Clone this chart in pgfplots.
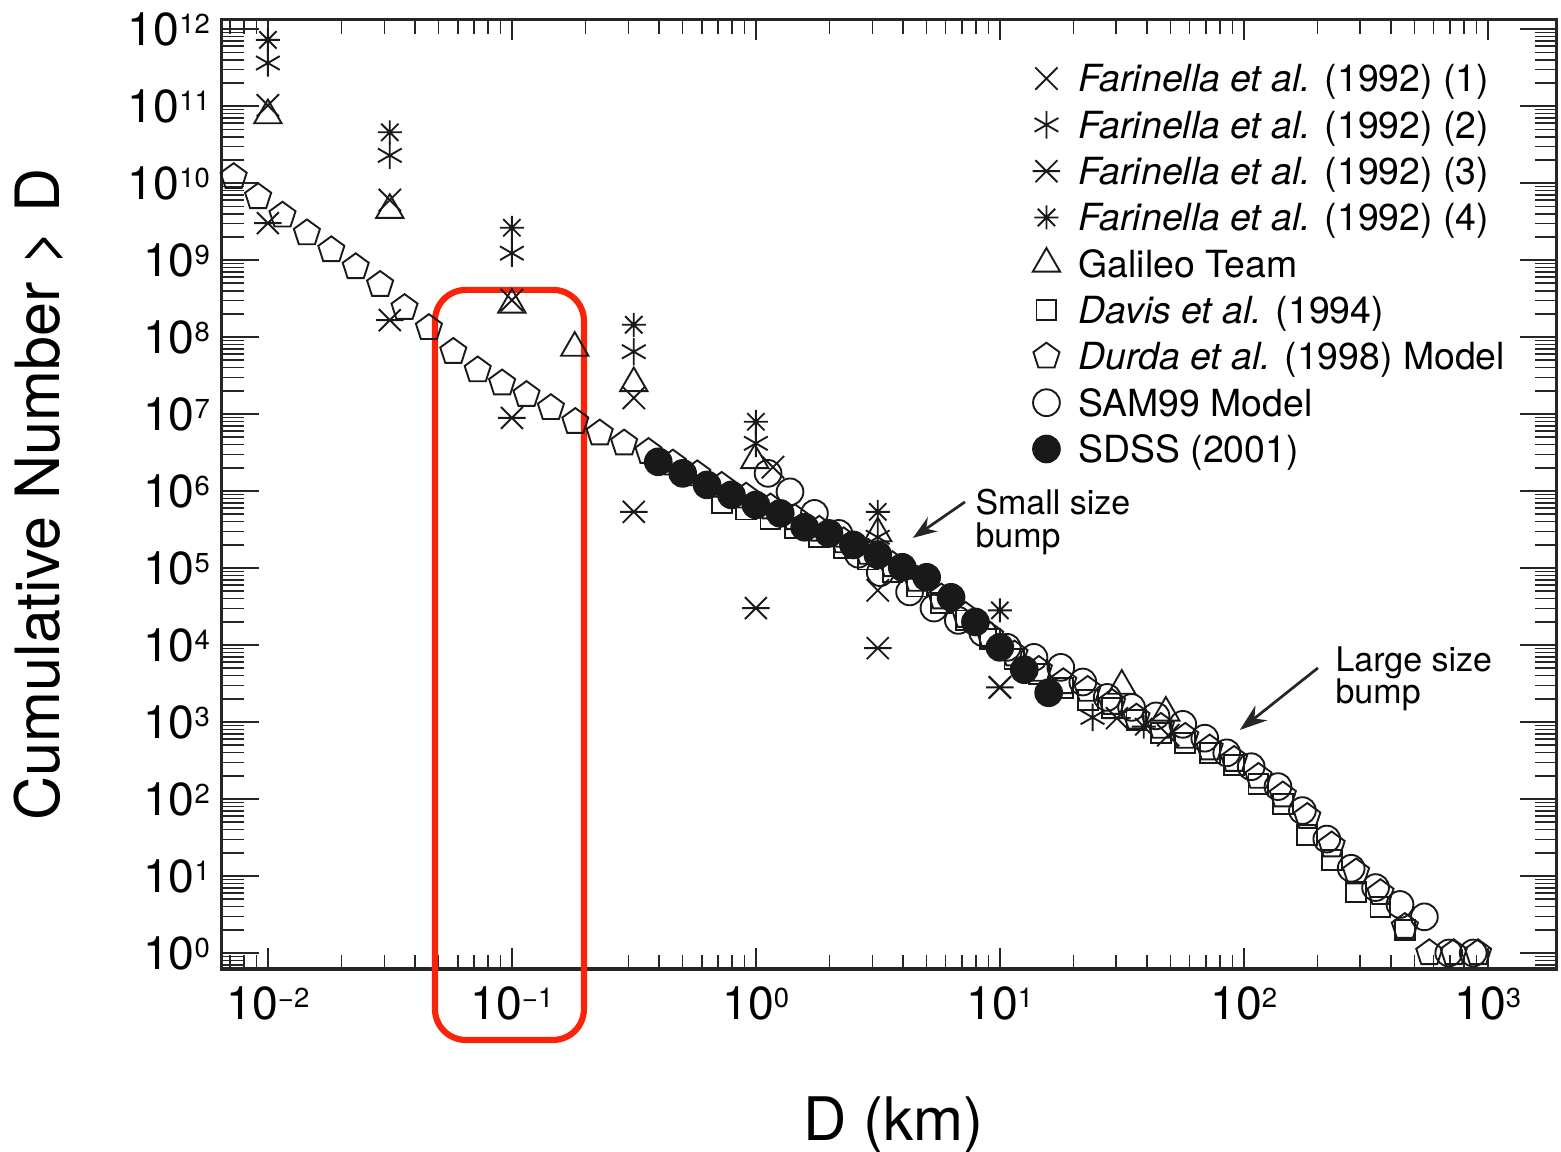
\documentclass[border=0pt]{standalone}
\usepackage{fontspec}
\setmainfont{TeX Gyre Heros}
\usepackage{pgfplots}
\pgfplotsset{compat=1.18}
\usetikzlibrary{arrows.meta}

\definecolor{boxred}{RGB}{250,35,10}

% 10 with a small raised exponent
\newcommand{\tp}[1]{10\raisebox{3.5pt}{\fontsize{8}{8}\selectfont#1}}

% X with a horizontal bar
\pgfdeclareplotmark{xbar}{%
  \pgfpathmoveto{\pgfqpoint{-\pgfplotmarksize}{-\pgfplotmarksize}}%
  \pgfpathlineto{\pgfqpoint{\pgfplotmarksize}{\pgfplotmarksize}}%
  \pgfpathmoveto{\pgfqpoint{-\pgfplotmarksize}{\pgfplotmarksize}}%
  \pgfpathlineto{\pgfqpoint{\pgfplotmarksize}{-\pgfplotmarksize}}%
  \pgfpathmoveto{\pgfqpoint{-1.25\pgfplotmarksize}{0pt}}%
  \pgfpathlineto{\pgfqpoint{1.25\pgfplotmarksize}{0pt}}%
  \pgfusepathqstroke}
% eight-armed asterisk
\pgfdeclareplotmark{ast8}{%
  \pgfpathmoveto{\pgfqpoint{-0.72\pgfplotmarksize}{-0.72\pgfplotmarksize}}%
  \pgfpathlineto{\pgfqpoint{0.72\pgfplotmarksize}{0.72\pgfplotmarksize}}%
  \pgfpathmoveto{\pgfqpoint{-0.72\pgfplotmarksize}{0.72\pgfplotmarksize}}%
  \pgfpathlineto{\pgfqpoint{0.72\pgfplotmarksize}{-0.72\pgfplotmarksize}}%
  \pgfpathmoveto{\pgfqpoint{-\pgfplotmarksize}{0pt}}%
  \pgfpathlineto{\pgfqpoint{\pgfplotmarksize}{0pt}}%
  \pgfpathmoveto{\pgfqpoint{0pt}{-\pgfplotmarksize}}%
  \pgfpathlineto{\pgfqpoint{0pt}{\pgfplotmarksize}}%
  \pgfusepathqstroke}

\begin{document}
\begin{tikzpicture}
\begin{axis}[
  name=ax, scale only axis, width=389.2pt, height=276.7pt,
  xmode=log, ymode=log,
  xmin=0.00648, xmax=1919, ymin=0.62, ymax=1.318e12,
  clip=false,
  axis line style={line width=0.9pt, black!85},
  xtick={0.01,0.1,1,10,100,1000},
  xticklabels={\tp{−2},\tp{−1},\tp{0},\tp{1},\tp{2},\tp{3}},
  minor xtick={0.007,0.008,0.009,0.02,0.03,0.04,0.05,0.06,0.07,0.08,0.09,
    0.2,0.3,0.4,0.5,0.6,0.7,0.8,0.9,2,3,4,5,6,7,8,9,
    20,30,40,50,60,70,80,90,200,300,400,500,600,700,800,900},
  ytick={1,10,100,1000,1e4,1e5,1e6,1e7,1e8,1e9,1e10,1e11,1e12},
  yticklabels={\tp{0},\tp{1},\tp{2},\tp{3},\tp{4},\tp{5},\tp{6},\tp{7},\tp{8},\tp{9},\tp{10},\tp{11},\tp{12}},
  minor ytick={0.7,0.8,0.9,2,3,4,5,6,7,8,9,20,30,40,50,60,70,80,90,
    200,300,400,500,600,700,800,900,2e3,3e3,4e3,5e3,6e3,7e3,8e3,9e3,
    2e4,3e4,4e4,5e4,6e4,7e4,8e4,9e4,2e5,3e5,4e5,5e5,6e5,7e5,8e5,9e5,
    2e6,3e6,4e6,5e6,6e6,7e6,8e6,9e6,2e7,3e7,4e7,5e7,6e7,7e7,8e7,9e7,
    2e8,3e8,4e8,5e8,6e8,7e8,8e8,9e8,2e9,3e9,4e9,5e9,6e9,7e9,8e9,9e9,
    2e10,3e10,4e10,5e10,6e10,7e10,8e10,9e10,2e11,3e11,4e11,5e11,6e11,7e11,8e11,9e11},
  tick style={black!85, line width=0.45pt},
  xtick style={/pgfplots/major tick length=6pt, /pgfplots/minor tick length=4pt},
  ytick style={/pgfplots/major tick length=10.8pt, /pgfplots/minor tick length=6.4pt},
  tick label style={font=\fontsize{13.5}{13.5}\selectfont},
  xticklabel style={yshift=-1.6pt},
  xlabel={D (km)},
  ylabel={Cumulative Number > D},
  xlabel style={at={(axis description cs:0.503,-0.1802)}, anchor=base, font=\fontsize{17.5}{17.5}\selectfont},
  ylabel style={at={(axis description cs:-0.1213,0.5)}, anchor=base, font=\fontsize{17.8}{17.8}\selectfont},
  legend cell align=left,
  legend style={at={(axis description cs:0.6043,0.9633)}, anchor=north west,
    draw=none, fill=none, inner sep=0pt, column sep=3.7pt, row sep=0pt,
    font=\fontsize{10.9}{13}\selectfont,
    nodes={inner sep=0.65pt, text height=10pt, text depth=2.2pt}},
  legend image code/.code={\path[draw=none, fill=none] (-5pt,-3pt) rectangle (5pt,3pt);
    \draw[#1] plot coordinates {(0pt,0pt)};},
  every axis plot/.append style={only marks, line width=0.55pt, black!90, mark options={solid}},
]

% Farinella et al. (1992) (1)
\addplot[mark=x, mark size=4.6pt] coordinates {
  (0.01,1.023e11) (0.0316,6.026e9) (0.1,3.020e8) (0.316,1.622e7)
  (1.175,2.042e6) (3.16,5.129e4) (10,2.818e3) (48.98,676)};
\addlegendentry{\textit{Farinella et al.} (1992) (1)}

% Farinella et al. (1992) (2)
\addplot[mark=asterisk, mark size=4pt] coordinates {
  (0.01,3.631e11) (0.0316,2.291e10) (0.1,1.230e9) (0.316,6.457e7)
  (1,4.169e6) (3.16,2.512e5) (23.99,1148)};
\addlegendentry{\textit{Farinella et al.} (1992) (2)}

% Farinella et al. (1992) (3)
\addplot[mark=xbar, mark size=3.2pt] coordinates {
  (0.01,3.020e9) (0.0316,1.660e8) (0.1,8.913e6) (0.316,5.370e5)
  (1,3.020e4) (3.16,9.120e3) (10,2.818e3) (30.2,1122)};
\addlegendentry{\textit{Farinella et al.} (1992) (3)}

% Farinella et al. (1992) (4)
\addplot[mark=ast8, mark size=3.5pt] coordinates {
  (0.01,7.244e11) (0.0316,4.571e10) (0.1,2.630e9) (0.316,1.445e8)
  (1,7.943e6) (3.16,5.370e5) (10,2.818e4) (38.9,871)};
\addlegendentry{\textit{Farinella et al.} (1992) (4)}

% Galileo Team
\addplot[mark=triangle, mark size=4.6pt] coordinates {
  (0.01,7.586e10) (0.0316,4.467e9) (0.1,2.630e8) (0.181,7.244e7)
  (0.316,2.512e7) (0.99,2.512e6) (3.16,2.818e5) (31.6,2951) (47.9,1318)};
\addlegendentry{Galileo Team}

% Davis et al. (1994)
\addplot[mark=square, mark size=2.9pt] coordinates {
  (0.7244,7.079e5) (0.9120,5.754e5) (1.148,4.365e5) (1.445,3.311e5)
  (1.820,2.512e5) (2.291,1.820e5) (2.884,1.288e5) (3.631,8.913e4)
  (4.571,5.754e4) (5.754,3.548e4) (7.244,2.089e4) (9.120,1.202e4)
  (11.48,6.607e3) (14.45,4.169e3) (18.20,2.754e3) (22.91,1.950e3)
  (28.84,1.514e3) (36.31,1.072e3) (45.71,724) (57.54,537)
  (72.44,398) (91.20,275) (114.8,158) (144.5,87.1) (182.0,33.9)
  (229.1,16.2) (288.4,6.17) (363.1,3.98) (457.1,2.00)};
\addlegendentry{\textit{Davis et al.} (1994)}

% Durda et al. (1998) Model
\addplot[mark=pentagon, mark size=4pt] coordinates {
  (0.00724,1.202e10) (0.00912,6.607e9) (0.01148,3.802e9) (0.01445,2.239e9)
  (0.01820,1.349e9) (0.02291,8.128e8) (0.02884,4.786e8) (0.03631,2.399e8)
  (0.04571,1.318e8) (0.05754,6.457e7) (0.07244,3.715e7) (0.09120,2.512e7)
  (0.1148,1.778e7) (0.1445,1.202e7) (0.1820,7.943e6) (0.2291,5.623e6)
  (0.2884,4.169e6) (0.3631,3.236e6) (0.4571,2.291e6) (0.5754,1.660e6)
  (0.7244,1.175e6) (0.9120,8.511e5) (1.148,6.166e5) (1.445,4.467e5)
  (1.820,3.162e5) (2.291,2.239e5) (2.884,1.585e5) (3.631,1.096e5)
  (4.571,7.079e4) (5.754,4.169e4) (7.244,2.399e4) (9.120,1.318e4)
  (11.48,7.586e3) (14.45,4.786e3) (18.20,3.311e3) (22.91,2.630e3)
  (28.84,1.778e3) (36.31,1.148e3) (45.71,871) (57.54,646)
  (72.44,457) (91.20,324) (114.8,195) (144.5,112) (182.0,58.9)
  (229.1,25.1) (288.4,11.2) (363.1,6.03) (457.1,2.19)
  (575.4,1) (724.4,1) (912.0,1)};
\addlegendentry{\textit{Durda et al.} (1998) Model}

% SAM99 Model
\addplot[mark=o, mark size=3.9pt] coordinates {
  (1.122,1.698e6) (1.380,9.772e5) (1.738,5.129e5) (2.188,2.818e5)
  (2.630,1.514e5) (3.236,8.710e4) (4.266,4.898e4) (5.370,3.020e4)
  (6.761,2.089e4) (8.511,1.445e4) (10.72,9.333e3) (13.80,6.918e3)
  (17.78,5.129e3) (21.88,3.311e3) (27.54,2.089e3) (34.67,1.549e3)
  (43.65,1.202e3) (56.23,933) (69.18,617) (85.11,398) (107.2,263)
  (138.0,145) (173.8,70.8) (218.8,30.2) (275.4,12.6) (346.7,7.08)
  (436.5,4.27) (549.5,2.95) (691.8,1) (871.0,1)};
\addlegendentry{SAM99 Model}

% SDSS (2001)
\addplot[mark=*, mark size=3.9pt, mark options={fill=black!90}] coordinates {
  (0.3981,2.399e6) (0.5012,1.698e6) (0.6310,1.202e6) (0.7943,8.913e5)
  (1.0,6.607e5) (1.259,5.129e5) (1.585,3.388e5) (1.995,2.818e5)
  (2.512,1.995e5) (3.162,1.479e5) (3.981,1.023e5) (5.012,7.586e4)
  (6.310,4.169e4) (7.943,1.995e4) (10.0,9.333e3) (12.59,4.786e3)
  (15.85,2.399e3)};
\addlegendentry{SDSS (2001)}

% annotations
\draw[-{Stealth[length=7pt,width=5pt]}, line width=0.8pt, black!85]
  (axis description cs:0.5566,0.4921) -- (axis description cs:0.5176,0.4542);
\node[anchor=base west, inner sep=0pt, font=\fontsize{9.9}{9.9}\selectfont]
  at (axis description cs:0.5640,0.4784) {Small size};
\node[anchor=base west, inner sep=0pt, font=\fontsize{9.9}{9.9}\selectfont]
  at (axis description cs:0.5640,0.4436) {bump};
\draw[-{Stealth[length=8pt,width=5.5pt]}, line width=0.8pt, black!85]
  (axis description cs:0.8210,0.3172) -- (axis description cs:0.7625,0.2518);
\node[anchor=base west, inner sep=0pt, font=\fontsize{9.9}{9.9}\selectfont]
  at (axis description cs:0.8337,0.3130) {Large size};
\node[anchor=base west, inner sep=0pt, font=\fontsize{9.9}{9.9}\selectfont]
  at (axis description cs:0.8337,0.2792) {bump};

% highlight box
\draw[boxred, line width=1.8pt, rounded corners=9pt]
  (axis description cs:0.1596,0.7155) rectangle (axis description cs:0.2712,-0.0748);
\end{axis}
\pgfresetboundingbox
\path[use as bounding box] ([shift={(-64.7pt,-53.1pt)}]ax.south west)
  rectangle ([shift={(1.2pt,5.8pt)}]ax.north east);
\end{tikzpicture}
\end{document}
